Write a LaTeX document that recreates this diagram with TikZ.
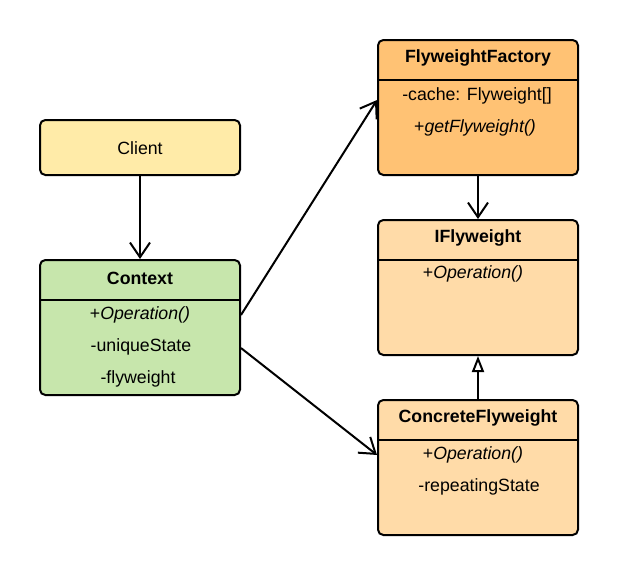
\documentclass[tikz,border=0pt]{standalone}
\usepackage{fontspec}
\setmainfont{Liberation Sans}
\usetikzlibrary{arrows.meta,backgrounds}
\definecolor{clientfill}{HTML}{FFEBA8}
\definecolor{contextfill}{HTML}{C7E6AC}
\definecolor{factoryfill}{HTML}{FFC274}
\definecolor{flyfill}{HTML}{FFDBA8}
\begin{document}
\begin{tikzpicture}[x=0.75pt,y=-0.75pt,
    box/.style={draw,line width=1.5pt,rounded corners=4pt,minimum width=150pt,minimum height=101.25pt},
    txt/.style={font=\fontsize{13.3}{16}\selectfont,inner sep=0pt,yshift=-1.5pt},
    title/.style={font=\fontsize{13.3}{16}\selectfont\bfseries,inner sep=0pt},
    sep/.style={line width=1.5pt},
    assoc/.style={line width=1.5pt,-{Straight Barb[length=11pt,width=15pt,line width=1.5pt]}},
    inherit/.style={line width=1.5pt,-{Triangle[open,length=12pt,width=9pt,line width=1.5pt]}}]
  \useasboundingbox (0,0) rectangle (618,576);
  % classes
  \draw
    (140,147.5) node[box,fill=clientfill,minimum height=41.25pt] (client){}
    (140,327.5) node[box,fill=contextfill] (context){}
    (478,107.5) node[box,fill=factoryfill] (factory){}
    (478,287.5) node[box,fill=flyfill] (ifly){}
    (478,467.5) node[box,fill=flyfill] (concrete){};
  % header lines
  \draw[sep] (context.west |- 0,300) -- (context.east |- 0,300);
  \draw[sep] (factory.west |- 0,80) -- (factory.east |- 0,80);
  \draw[sep] (ifly.west |- 0,260) -- (ifly.east |- 0,260);
  \draw[sep] (concrete.west |- 0,440) -- (concrete.east |- 0,440);
  % texts
  \draw
    (140,146) node[txt] (clientname){Client}
    (140,278) node[title] (contextname){Context}
    (140,313) node[txt] (contextop){+\textit{Operation()}}
    (141,345) node[txt] (contextstate){-uniqueState}
    (138,377) node[txt] (contextfly){-flyweight}
    (478,58) node[title] (factoryname){FlyweightFactory}
    (477,94) node[txt] (factorycache){-cache: Flyweight[]}
    (475,126) node[txt] (factoryget){+\textit{getFlyweight()}}
    (478,238) node[title] (iflyname){IFlyweight}
    (473,272) node[txt] (iflyop){+\textit{Operation()}}
    (478,418) node[title] (concretename){ConcreteFlyweight}
    (473,453) node[txt] (concreteop){+\textit{Operation()}}
    (479,485) node[txt] (concretestate){-repeatingState};
  \begin{scope}[on background layer]
    \draw[assoc] (client) to (context);
    \draw[assoc] (factory) to (ifly);
    \draw[inherit] (concrete) to (ifly);
    \draw[assoc] ([yshift=9.4pt]context.east) to ([yshift=5.6pt]factory.west);
    \draw[assoc] ([yshift=-15.4pt]context.east) to ([yshift=9.4pt]concrete.west);
  \end{scope}
\end{tikzpicture}
\end{document}
